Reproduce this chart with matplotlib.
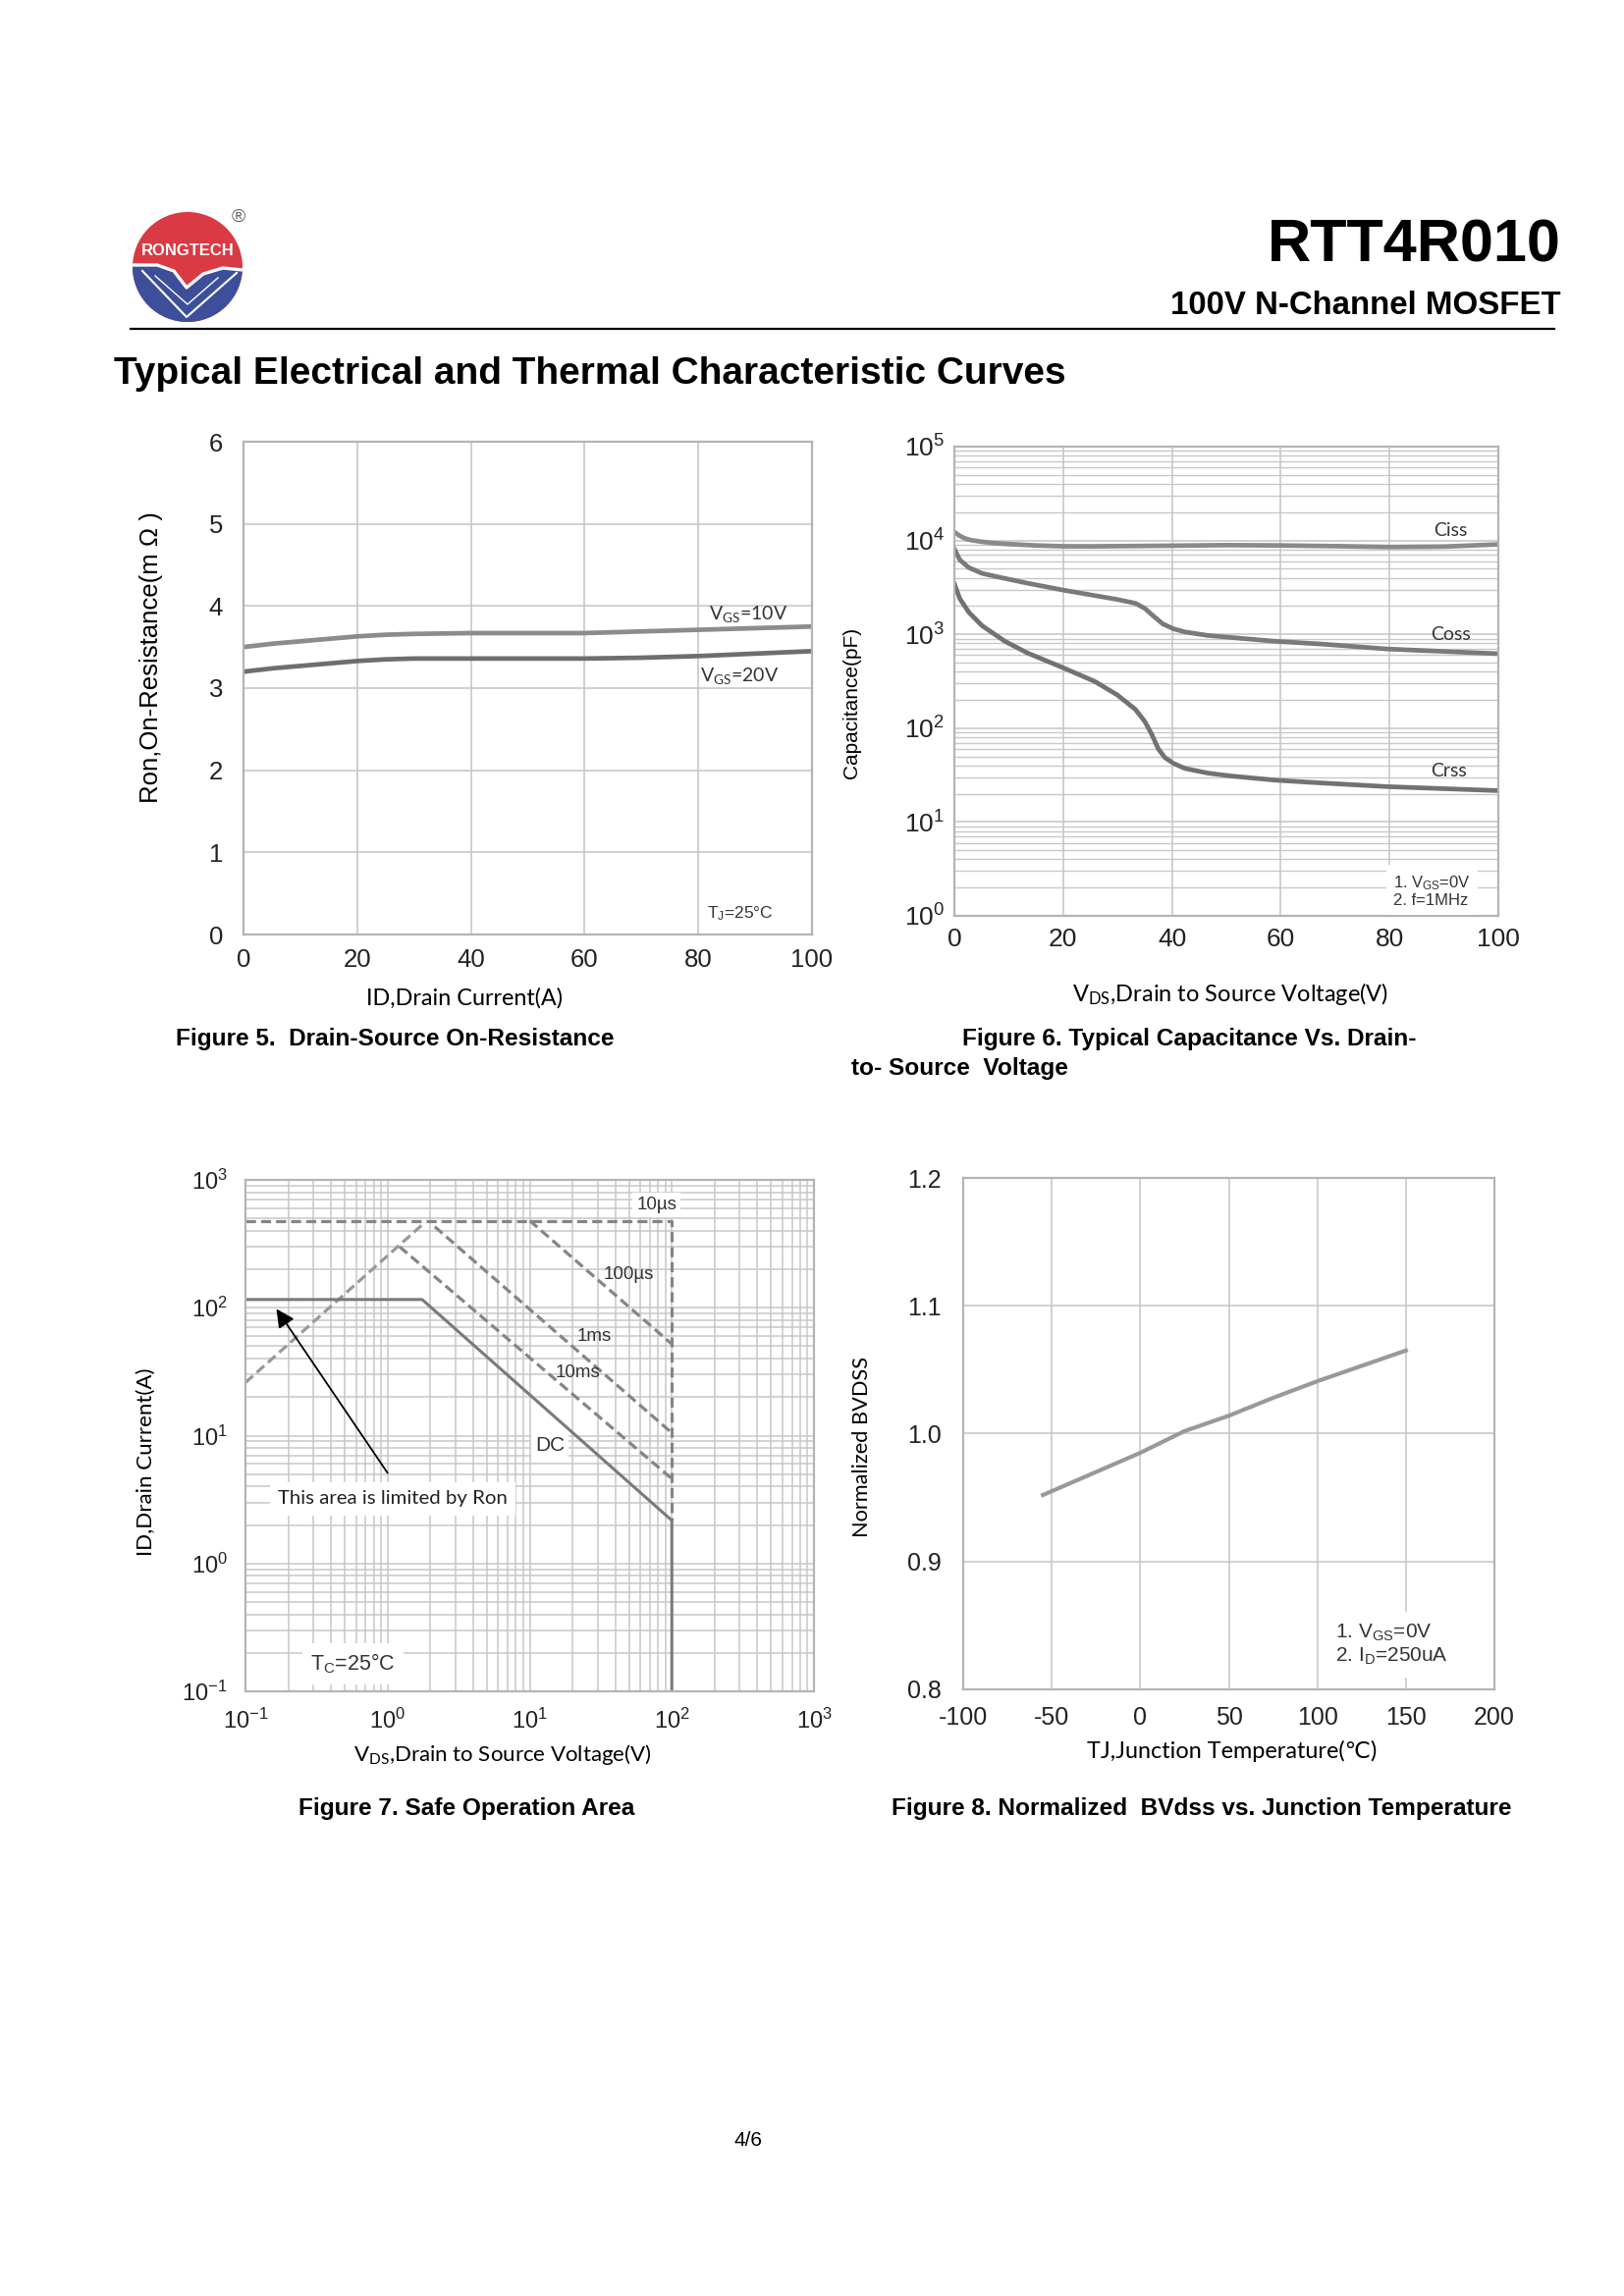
import numpy as np
import matplotlib
matplotlib.use("Agg")
import matplotlib.pyplot as plt
from matplotlib.patches import Circle, Polygon
from matplotlib.ticker import LogLocator, NullFormatter

plt.rcParams['font.family'] = ['Liberation Sans', 'DejaVu Sans']
plt.rcParams['mathtext.default'] = 'regular'

# ---------------- data ----------------
# Figure 5: on-resistance vs drain current
id_a = [0, 5, 10, 15, 20, 25, 30, 40, 50, 60, 70, 80, 90, 100]
ron_vgs10 = [3.50, 3.54, 3.57, 3.60, 3.63, 3.65, 3.66, 3.67, 3.67, 3.67, 3.69, 3.71, 3.73, 3.75]
ron_vgs20 = [3.20, 3.24, 3.27, 3.30, 3.33, 3.35, 3.36, 3.36, 3.36, 3.36, 3.37, 3.39, 3.42, 3.45]

# Figure 6: capacitance vs VDS
vds_ciss = [0, 1, 2, 3, 5, 7, 10, 15, 20, 25, 30, 35, 40, 50, 60, 70, 80, 90, 100]
ciss = [12300, 11200, 10500, 10100, 9700, 9400, 9150, 8850, 8670, 8650, 8700, 8750, 8800, 8920, 8850, 8700, 8510, 8600, 9090]
vds_cap = [0, 1.0, 2.65, 5.1, 9.3, 13.4, 20, 25.8, 30, 33.3, 35, 36.6, 38.3, 40.3, 42.4, 46.6, 50.7, 59, 67.3, 79.7, 100]
coss = [8110, 6210, 5140, 4460, 3940, 3510, 2960, 2590, 2350, 2140, 1890, 1565, 1293, 1143, 1059, 973, 927, 843, 789, 697, 621]
vds_crss = [0, 1.0, 2.65, 5.1, 9.3, 13.4, 20, 25.8, 30, 33.3, 35, 36.2, 37.5, 38.7, 40.3, 42.4, 46.6, 50.7, 59, 67.3, 79.7, 100]
crss = [3440, 2400, 1720, 1234, 843, 634, 440, 315, 225, 158, 118, 88, 60, 48.6, 42.1, 37.2, 33.2, 31.0, 27.9, 26.1, 23.8, 21.6]

# Figure 7: safe operating area
vds_dc = [0.1, 1.75, 100, 100]
id_dc = [116, 116, 2.17, 0.1]
vds_ron = [0.1, 1.75]
id_ron = [26, 445]
vds_10us = [0.1, 100, 100]
id_10us = [480, 480, 2.17]
vds_100us = [10, 100]
id_100us = [480, 52]
vds_1ms = [2.15, 100]
id_1ms = [430, 10.5]
vds_10ms = [1.215, 100]
id_10ms = [300, 4.6]

# Figure 8: normalized BVdss vs Tj
tj = [-55, -25, 0, 25, 50, 75, 100, 125, 150]
bvdss = [0.952, 0.970, 0.985, 1.002, 1.014, 1.028, 1.041, 1.053, 1.065]

# ---------------- figure ----------------
W, H = 1654, 2339
fig = plt.figure(figsize=(W / 100, H / 100), dpi=100)
fig.patch.set_facecolor('white')


def rect(l, t, r, b):
    return [l / W, 1 - b / H, (r - l) / W, (b - t) / H]


def ftext(x, y, s, **kw):
    return fig.text(x / W, 1 - y / H, s, **kw)


GRID = '#c8c8c8'
SPINE = '#b4b4b4'
CAL = ['Lato', 'DejaVu Sans']


def style(ax, pad_x, pad_y, size):
    for s in ax.spines.values():
        s.set_color(SPINE)
        s.set_linewidth(1.6)
    ax.tick_params(which='both', length=0, labelsize=size, colors='#222222')
    ax.tick_params(axis='x', pad=pad_x)
    ax.tick_params(axis='y', pad=pad_y)
    ax.set_axisbelow(True)


# ---------- header ----------
ftext(1590, 251, 'RTT4R010', fontsize=44, fontweight='bold', ha='right', va='center')
ftext(1590, 312, '100V N-Channel MOSFET', fontsize=23.8, fontweight='bold', ha='right', va='center')
fig.add_artist(plt.Line2D([133 / W, 1583 / W], [1 - 335 / H, 1 - 335 / H], color='black', lw=1.6))
ftext(116, 381, 'Typical Electrical and Thermal Characteristic Curves', fontsize=28,
      fontweight='bold', ha='left', va='center')

# logo
lax = fig.add_axes(rect(125, 205, 265, 340))
lax.set_xlim(125, 265)
lax.set_ylim(340, 205)
lax.axis('off')
circ = Circle((191, 272), 56, facecolor='#d93a44', edgecolor='none')
lax.add_patch(circ)
wave = [(125, 270), (135, 270), (160, 270), (177, 276), (190, 293), (207, 279), (227, 273), (247, 275), (265, 276)]
blue = Polygon(wave + [(265, 340), (125, 340)], closed=True, facecolor='#3d4f9b', edgecolor='none')
lax.add_patch(blue)
blue.set_clip_path(circ)
wx, wy = zip(*wave)
l1, = lax.plot(wx, wy, color='white', lw=2.4)
l1.set_clip_path(circ)
l2, = lax.plot([145, 190, 241], [276, 323, 278], color='white', lw=1.5)
l2.set_clip_path(circ)
l3, = lax.plot([158, 191, 222], [281, 310, 283], color='white', lw=1.0)
l3.set_clip_path(circ)
lax.text(191, 255, 'RONGTECH', color='white', fontsize=12, fontweight='bold', ha='center', va='center')
lax.text(243, 221, '®', color='#666666', fontsize=14, ha='center', va='center')

# ---------- Figure 5 ----------
ax5 = fig.add_axes(rect(248, 450, 827, 952))
ax5.set_xlim(0, 100)
ax5.set_ylim(0, 6)
ax5.set_xticks([0, 20, 40, 60, 80, 100])
ax5.set_yticks([0, 1, 2, 3, 4, 5, 6])
ax5.grid(True, color=GRID, lw=1.2)
style(ax5, 10, 15, 18.5)
ax5.plot(id_a, ron_vgs10, color='#8c8c8c', lw=3.4, solid_capstyle='butt')
ax5.plot(id_a, ron_vgs20, color='#6e6e6e', lw=3.4, solid_capstyle='butt')
ax5.text(88.8, 3.90, r'V$_{GS}$=10V', fontsize=14, family=CAL, ha='center', va='center', color='#333333')
ax5.text(87.2, 3.15, r'V$_{GS}$=20V', fontsize=14, family=CAL, ha='center', va='center', color='#333333')
ax5.text(87.4, 0.25, r'T$_{J}$=25°C', fontsize=12.5, ha='center', va='center', color='#333333',
         bbox=dict(facecolor='white', edgecolor='none', pad=3))
ftext(154, 670, 'Ron,On-Resistance(m Ω )', fontsize=18.5, rotation=90, ha='center', va='center')
ftext(473, 1017, 'ID,Drain Current(A)', fontsize=16.8, family=CAL, ha='center', va='center')

# ---------- Figure 6 ----------
ax6 = fig.add_axes(rect(972, 455, 1526, 933))
ax6.set_yscale('log')
ax6.set_xlim(0, 100)
ax6.set_ylim(1, 1e5)
ax6.set_xticks([0, 20, 40, 60, 80, 100])
ax6.yaxis.set_major_locator(LogLocator(base=10, numticks=10))
ax6.yaxis.set_minor_locator(LogLocator(base=10, subs=np.arange(2, 10), numticks=20))
ax6.yaxis.set_minor_formatter(NullFormatter())
ax6.grid(True, which='major', color=GRID, lw=1.2)
ax6.grid(True, which='minor', axis='y', color=GRID, lw=1.0)
style(ax6, 9, 7, 19)
ax6.plot(vds_ciss, ciss, color='#8a8a8a', lw=3.4)
ax6.plot(vds_cap, coss, color='#7a7a7a', lw=3.4)
ax6.plot(vds_crss, crss, color='#727272', lw=3.4)
ax6.text(91.3, 12700, 'Ciss', fontsize=14, family=CAL, ha='center', va='center', color='#333333')
ax6.text(91.3, 1000, 'Coss', fontsize=14, family=CAL, ha='center', va='center', color='#333333')
ax6.text(90.8, 34.7, 'Crss', fontsize=14, family=CAL, ha='center', va='center', color='#333333')
ax6.text(80.7, 1.85, '1. V$_{GS}$=0V\n2. f=1MHz', fontsize=12, ha='left', va='center', color='#333333',
         linespacing=1.1, bbox=dict(facecolor='white', edgecolor='none', pad=5))
ftext(867, 716, 'Capacitance(pF)', fontsize=15, rotation=90, ha='center', va='center')
ftext(1253, 1013, 'V$_{DS}$,Drain to Source Voltage(V)', fontsize=17, family=CAL, ha='center', va='center')

# ---------- Figure 7 ----------
ax7 = fig.add_axes(rect(250, 1202, 829, 1723))
ax7.set_xscale('log')
ax7.set_yscale('log')
ax7.set_xlim(0.1, 1000)
ax7.set_ylim(0.1, 1000)
for axis in (ax7.xaxis, ax7.yaxis):
    axis.set_major_locator(LogLocator(base=10, numticks=10))
    axis.set_minor_locator(LogLocator(base=10, subs=np.arange(2, 10), numticks=20))
    axis.set_minor_formatter(NullFormatter())
ax7.grid(True, which='both', color=GRID, lw=1.1)
style(ax7, 13, 13, 17)
DASH = (0, (3.2, 1.6))
ax7.plot(vds_10us, id_10us, color='#858585', lw=2.3, ls=DASH)
ax7.plot(vds_ron, id_ron, color='#999999', lw=2.3, ls=DASH)
ax7.plot(vds_100us, id_100us, color='#858585', lw=2.3, ls=DASH)
ax7.plot(vds_1ms, id_1ms, color='#858585', lw=2.3, ls=DASH)
ax7.plot(vds_10ms, id_10ms, color='#858585', lw=2.3, ls=DASH)
ax7.plot(vds_dc, id_dc, color='#7a7a7a', lw=2.2)
ax7.text(78, 640, '10µs', fontsize=13.5, ha='center', va='center', color='#333333',
         bbox=dict(facecolor='white', edgecolor='none', pad=3))
ax7.text(50, 181, '100µs', fontsize=13.5, ha='center', va='center', color='#333333')
ax7.text(28.5, 60, '1ms', fontsize=13.5, ha='center', va='center', color='#333333')
ax7.text(21.9, 31, '10ms', fontsize=13.5, ha='center', va='center', color='#333333')
ax7.text(13.9, 8.4, 'DC', fontsize=15, ha='center', va='center', color='#333333',
         bbox=dict(facecolor='white', edgecolor='none', pad=3))
ax7.text(1.09, 3.2, 'This area is limited by Ron', fontsize=14.7, family=CAL, ha='center', va='center',
         color='#222222', bbox=dict(facecolor='white', edgecolor='none', pad=6))
ax7.annotate('', xy=(0.165, 98), xytext=(1.0, 5.1),
             arrowprops=dict(arrowstyle='-|>', color='black', lw=1.3, mutation_scale=28, shrinkA=0, shrinkB=0))
ax7.text(0.57, 0.164, 'T$_{C}$=25°C', fontsize=15.5, ha='center', va='center', color='#333333',
         bbox=dict(facecolor='white', edgecolor='none', pad=6))
ftext(149, 1489, 'ID,Drain Current(A)', fontsize=16, family=CAL, rotation=90, ha='center', va='center')
ftext(512, 1788, 'V$_{DS}$,Drain to Source Voltage(V)', fontsize=16, family=CAL, ha='center', va='center')

# ---------- Figure 8 ----------
ax8 = fig.add_axes(rect(981, 1200, 1522, 1721))
ax8.set_xlim(-100, 200)
ax8.set_ylim(0.8, 1.2)
ax8.set_xticks([-100, -50, 0, 50, 100, 150, 200])
ax8.set_yticks([0.8, 0.9, 1.0, 1.1, 1.2])
ax8.set_yticklabels(['0.8', '0.9', '1.0', '1.1', '1.2'])
ax8.set_xticklabels(['-100', '-50', '0', '50', '100', '150', '200'])
ax8.grid(True, color=GRID, lw=1.2)
style(ax8, 12, 16, 18)
ax8.plot(tj, bvdss, color='#999999', lw=3.0)
ax8.text(110, 0.835, '1. V$_{GS}$=0V\n2. I$_{D}$=250uA', fontsize=15, ha='left', va='center', color='#333333',
         linespacing=1.15, bbox=dict(facecolor='white', edgecolor='none', pad=8))
ftext(878, 1474, 'Normalized BVDSS', fontsize=15.7, family=CAL, rotation=90, ha='center', va='center')
ftext(1255, 1784, 'TJ,Junction Temperature(℃)', fontsize=16.9, family=CAL, ha='center', va='center')

# ---------- captions ----------
CAP = 17.6
ftext(179, 1058, 'Figure 5.  Drain-Source On-Resistance', fontsize=CAP, fontweight='bold', ha='left', va='center')
ftext(980, 1058, 'Figure 6. Typical Capacitance Vs. Drain-', fontsize=CAP, fontweight='bold', ha='left', va='center')
ftext(867, 1088, 'to- Source  Voltage', fontsize=CAP, fontweight='bold', ha='left', va='center')
ftext(475, 1843, 'Figure 7. Safe Operation Area', fontsize=CAP, fontweight='bold', ha='center', va='center')
ftext(1224, 1843, 'Figure 8. Normalized  BVdss vs. Junction Temperature', fontsize=CAP, fontweight='bold',
      ha='center', va='center')
ftext(762, 2181, '4/6', fontsize=15, ha='center', va='center')

fig.savefig('out.png', dpi=100, facecolor='white')
